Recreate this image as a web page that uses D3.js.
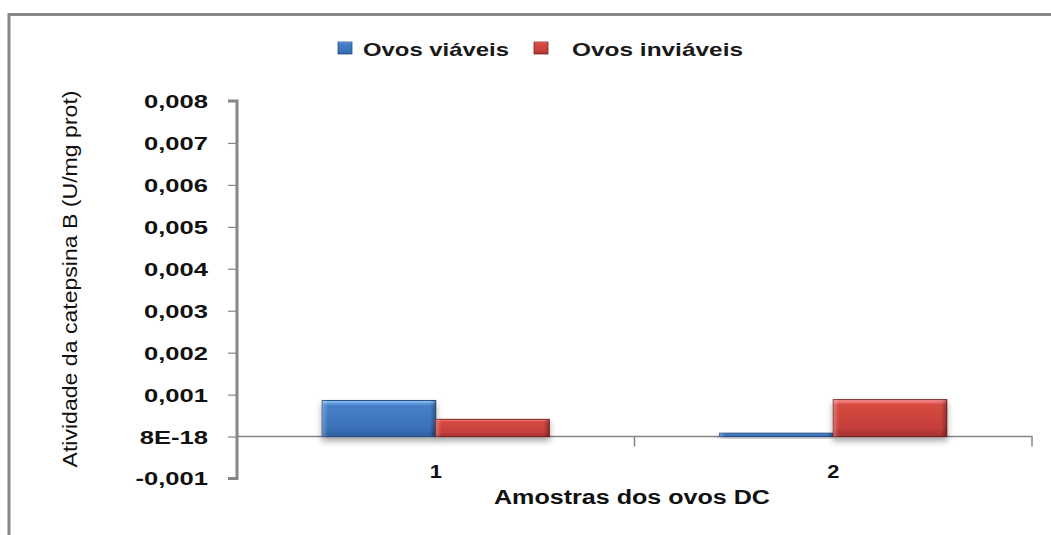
<!DOCTYPE html>
<html><head><meta charset="utf-8">
<script src="https://cdn.jsdelivr.net/npm/d3@7"></script>
<style>body{margin:0;background:#fff}svg{display:block}</style>
</head><body>
<script>
const categories = ["1", "2"];
const seriesNames = ["Ovos viáveis", "Ovos inviáveis"];
const viaveis = [0.00086, 0.00008];
const inviaveis = [0.00041, 0.00088];
const yTicks = [-0.001, 0, 0.001, 0.002, 0.003, 0.004, 0.005, 0.006, 0.007, 0.008];
const yTickLabels = ["-0,001", "8E-18", "0,001", "0,002", "0,003", "0,004", "0,005", "0,006", "0,007", "0,008"];
const yTitle = "Atividade da catepsina B (U/mg prot)";
const xTitle = "Amostras dos ovos DC";

const W = 1051, H = 535;
const svg = d3.select("body").append("svg").attr("width", W).attr("height", H);
const defs = svg.append("defs");

const palettes = [
  {id: "gBlue", stops: [["0%","#9CC8F5"],["6%","#6FA8E6"],["14%","#4680C8"],["75%","#3B72BA"],["100%","#2F5F9E"]], stroke: "#264E85"},
  {id: "gRed", stops: [["0%","#FAA2A2"],["6%","#F07272"],["14%","#D6493F"],["75%","#C6403C"],["100%","#A3312E"]], stroke: "#7E2220"}
];
palettes.forEach(p => {
  const g = defs.append("linearGradient").attr("id", p.id).attr("x1",0).attr("y1",0).attr("x2",0).attr("y2",1);
  p.stops.forEach(s => g.append("stop").attr("offset", s[0]).attr("stop-color", s[1]));
});
const side = defs.append("linearGradient").attr("id","gSide").attr("x1",0).attr("y1",0).attr("x2",1).attr("y2",0);
[["0%",0.28],["5%",0.0],["95%",0.0],["100%",0.0]].forEach(s=>side.append("stop").attr("offset",s[0]).attr("stop-color","#fff").attr("stop-opacity",s[1]));
const sideR = defs.append("linearGradient").attr("id","gSideR").attr("x1",0).attr("y1",0).attr("x2",1).attr("y2",0);
[["0%",0.0],["95%",0.0],["100%",0.3]].forEach(s=>sideR.append("stop").attr("offset",s[0]).attr("stop-color","#000").attr("stop-opacity",s[1]));
const f = defs.append("filter").attr("id","sh").attr("x","-10%").attr("y","-10%").attr("width","120%").attr("height","160%");
f.append("feDropShadow").attr("dx",0).attr("dy",4).attr("stdDeviation",3).attr("flood-color","#000").attr("flood-opacity",0.35);

// outer frame
svg.append("rect").attr("x", 9).attr("y", 14.5).attr("width", 1100).attr("height", 600)
  .attr("fill","none").attr("stroke","#888").attr("stroke-width",3);

const plotL = 237, plotR = 1032;
const y = d3.scaleLinear().domain([-0.001, 0.008]).range([478.5, 101]);
const x0 = d3.scaleBand().domain(categories).range([plotL, plotR]).paddingInner(0).paddingOuter(0);
const barW = x0.bandwidth() / 3.5;
const x1 = d3.scaleBand().domain([0,1]).range([0, 2*barW]);

function stretch(sel, factor) {
  sel.each(function(){
    const w = this.getComputedTextLength();
    d3.select(this).attr("textLength", w*factor).attr("lengthAdjust","spacingAndGlyphs");
  });
}

// y axis
const yAxis = d3.axisLeft(y).tickValues(yTicks).tickSize(9).tickPadding(20)
  .tickFormat((d,i) => yTickLabels[i]);
const ga = svg.append("g").attr("transform", `translate(${plotL},0)`).call(yAxis);
ga.select(".domain").attr("stroke","#868686").attr("stroke-width",3).attr("d", `M-9,${y(-0.001)}H0V${y(0.008)}H-9`);
ga.selectAll(".tick line").attr("stroke","#868686").attr("stroke-width",1.2);
const tl = ga.selectAll(".tick text").attr("font-family","Liberation Sans, Arial, sans-serif")
  .attr("font-size",18).attr("font-weight","bold").attr("fill","#111").attr("dy","0.36em");
let base = tl.filter((d,i)=>i===9).node().getComputedTextLength();
stretch(tl, 64/base);

// x axis at zero
const xAxis = d3.axisBottom(x0).tickSize(0).tickPadding(0).tickFormat(()=>"");
const gx = svg.append("g").attr("transform", `translate(0,${y(0)})`).call(xAxis);
gx.select(".domain").attr("stroke","#868686").attr("stroke-width",1.5).attr("d", `M${plotL},0H${plotR}V10`);
gx.selectAll(".tick").remove();
svg.append("g").selectAll("line").data(categories.slice(1)).join("line")
  .attr("x1", d=>x0(d)).attr("x2", d=>x0(d)).attr("y1", y(0)).attr("y2", y(0)+10)
  .attr("stroke","#868686").attr("stroke-width",1.5);

// bars
const data = categories.map((c,i)=>({c, vals:[viaveis[i], inviaveis[i]]}));
const groups = svg.append("g").selectAll("g").data(data).join("g")
  .attr("transform", d => `translate(${x0(d.c) + x0.bandwidth()/2 - barW},0)`);
const bars = groups.selectAll("g").data(d => d.vals.map((v,k)=>({v,k}))).join("g");
bars.append("rect")
  .attr("x", d => x1(d.k)).attr("width", barW)
  .attr("y", d => y(d.v)).attr("height", d => y(0) - y(d.v))
  .attr("fill", d => `url(#${palettes[d.k].id})`)
  .attr("stroke", d => palettes[d.k].stroke).attr("stroke-width", 1)
  .attr("filter","url(#sh)");
bars.append("rect")
  .attr("x", d => x1(d.k)).attr("width", barW)
  .attr("y", d => y(d.v)).attr("height", d => y(0) - y(d.v))
  .attr("fill", "url(#gSide)");
bars.append("rect")
  .attr("x", d => x1(d.k)).attr("width", barW)
  .attr("y", d => y(d.v)).attr("height", d => y(0) - y(d.v))
  .attr("fill", "url(#gSideR)");

// category labels
const cl = svg.append("g").selectAll("text").data(categories).join("text")
  .attr("x", d => x0(d) + x0.bandwidth()/2).attr("y", 478)
  .attr("text-anchor","middle").attr("font-family","Liberation Sans, Arial, sans-serif")
  .attr("font-size",19).attr("font-weight","bold").attr("fill","#111").text(d=>d);
stretch(cl, 1.15);

// x title
svg.append("text").attr("x", 632).attr("y", 504).attr("text-anchor","middle")
  .attr("font-family","Liberation Sans, Arial, sans-serif").attr("font-size",20).attr("font-weight","bold")
  .attr("fill","#111").text(xTitle)
  .attr("textLength", 276).attr("lengthAdjust","spacingAndGlyphs");

// y title
svg.append("text").attr("transform","translate(77,279) rotate(-90)").attr("text-anchor","middle")
  .attr("font-family","Liberation Sans, Arial, sans-serif").attr("font-size",20)
  .attr("fill","#111").text(yTitle).attr("textLength", 377).attr("lengthAdjust","spacingAndGlyphs");

// legend
const legend = [{x:338, tx:363, tw:146}, {x:534, tx:572, tw:171}];
const lg = svg.append("g").selectAll("g").data(seriesNames).join("g");
lg.append("rect").attr("x",(d,i)=>legend[i].x).attr("y",42).attr("width",14).attr("height",12)
  .attr("fill",(d,i)=>`url(#${palettes[i].id})`).attr("stroke",(d,i)=>palettes[i].stroke).attr("stroke-width",0.8);
lg.append("text").attr("x",(d,i)=>legend[i].tx).attr("y",56)
  .attr("font-family","Liberation Sans, Arial, sans-serif").attr("font-size",19).attr("font-weight","bold")
  .attr("fill","#1a1a1a").text(d=>d)
  .attr("textLength",(d,i)=>legend[i].tw).attr("lengthAdjust","spacingAndGlyphs");
</script>
</body></html>
